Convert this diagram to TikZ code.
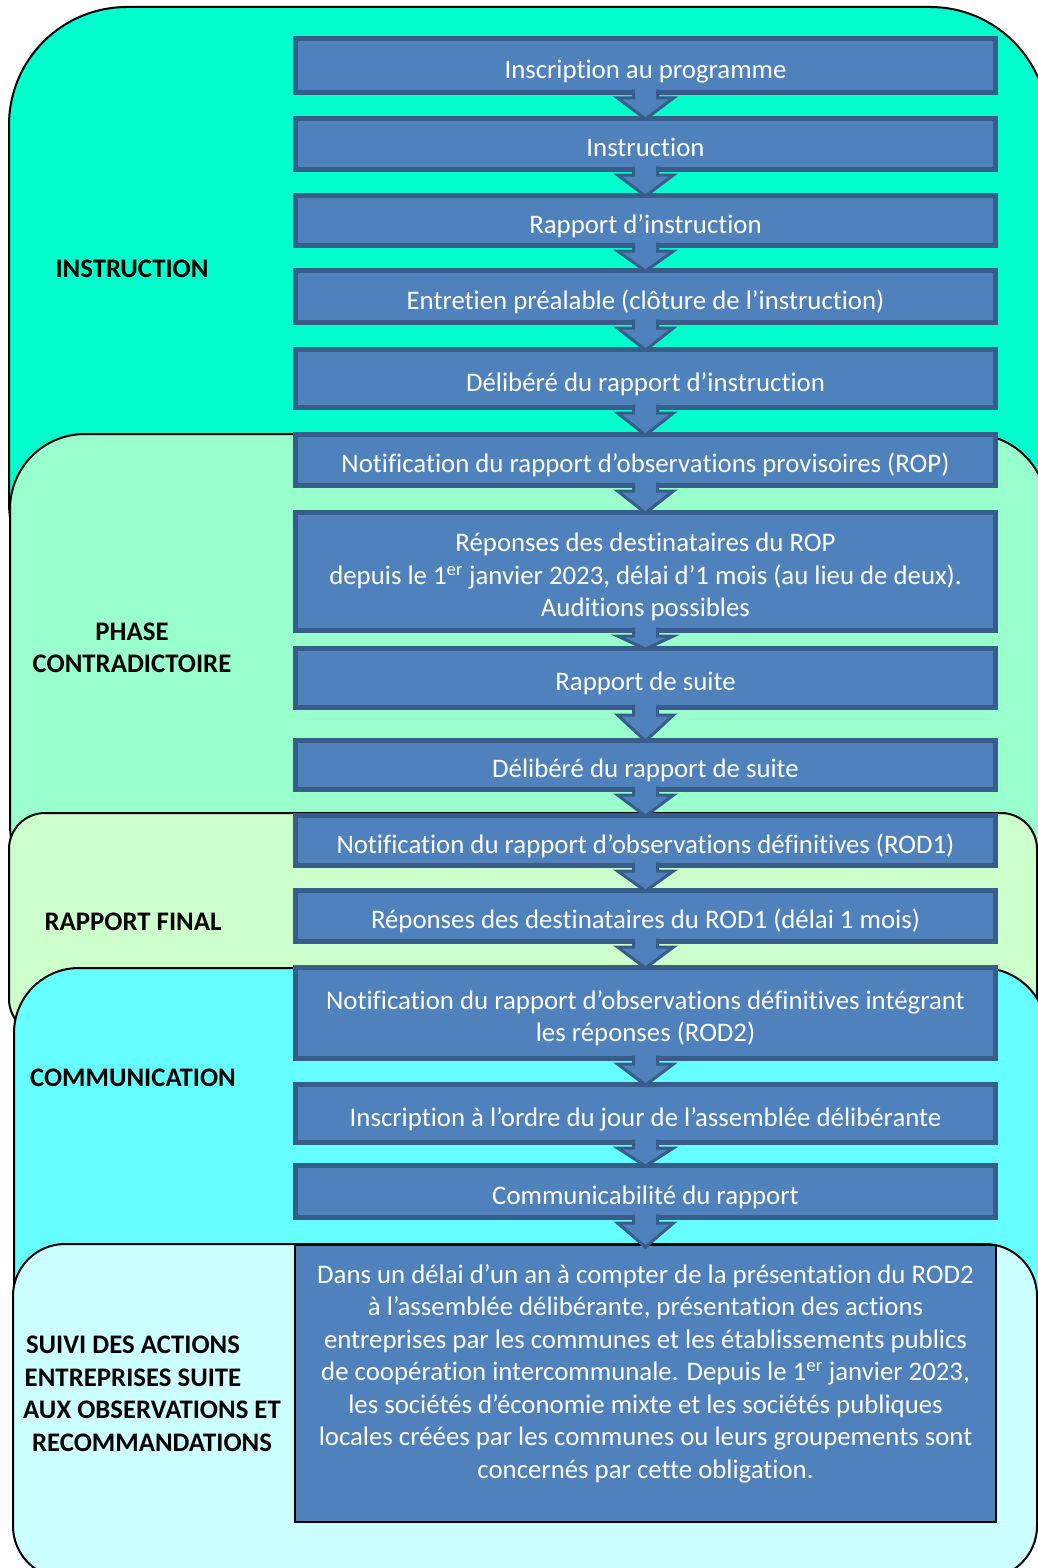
\documentclass[tikz,border=0pt]{standalone}
\usepackage{fontspec}
\setmainfont{Carlito}[Ligatures={TeX,NoCommon}]
\usetikzlibrary{calc}
\definecolor{bgA}{HTML}{00FFCC}
\definecolor{bgB}{HTML}{99FFCC}
\definecolor{bgC}{HTML}{CCFFCC}
\definecolor{bgD}{HTML}{66FFFF}
\definecolor{bgE}{HTML}{CCFFFF}
\definecolor{boxfill}{HTML}{4F81BD}
\definecolor{boxline}{HTML}{385D8A}
\newcommand\topstrut{\rule{0pt}{33.4pt}}
\newcommand\botstrut{\rule[-8pt]{0pt}{0pt}}
\tikzset{
  phasebg/.style={draw=black, line width=2pt},
  stepbox/.style={draw=boxline, fill=boxfill, line width=5pt, minimum width=700pt,
    inner sep=0pt, text=white, align=center, font=\fontsize{26.8}{32.5}\selectfont},
  lastbox/.style={draw=black, fill=boxfill, line width=2pt, minimum width=701pt,
    minimum height=277pt, inner sep=0pt},
  phaselabel/.style={font=\fontsize{26.8}{32.5}\selectfont\bfseries, align=center, text=black, inner sep=0pt},
  flow/.style={fill=boxfill, draw=boxline, line width=3pt, line join=miter},
}
\newcommand\flowarrow[2]{%
  \path[flow] let \p1=(#1.south), \p2=(#2.north),
    \n1={min(\y1-3pt,\y2+23pt)}, \n2={\y2-3pt} in
    (\x1-12pt,\y1+5.5pt) -- (\x1-12pt,\n1) -- (\x1-28pt,\n1) -- (\x1,\n2)
    -- (\x1+28pt,\n1) -- (\x1+12pt,\n1) -- (\x1+12pt,\y1+5.5pt);
}
\begin{document}
\begin{tikzpicture}[x=1pt,y=-1pt]
\useasboundingbox (0,0) rectangle (1038,1568);
\begin{scope}
  \clip (0,0) rectangle (1038,1568);
  \draw[phasebg, fill=bgA, rounded corners=118pt] (9,7) rectangle (1048,620);
  \draw[phasebg, fill=bgB, rounded corners=75pt] (10,434) rectangle (1047,900);
  \draw[phasebg, fill=bgC, rounded corners=36pt] (9,813) rectangle (1037,1035);
  \draw[phasebg, fill=bgD, rounded corners=65pt] (14,968) rectangle (1047,1420);
  \draw[phasebg, fill=bgE, rounded corners=52pt] (13,1244) rectangle (1037,1578);
\end{scope}

\node[phaselabel] (lblA) at (132,269) {INSTRUCTION};
\node[phaselabel] (lblB) at (132,648) {PHASE\\CONTRADICTOIRE};
\node[phaselabel] (lblC) at (133,922) {RAPPORT FINAL};
\node[phaselabel] (lblD) at (133,1078) {COMMUNICATION};
\node[phaselabel] (lblE) at (152,1394) {SUIVI DES ACTIONS\rule{38pt}{0pt}\\ENTREPRISES SUITE\rule{38pt}{0pt}\\AUX OBSERVATIONS ET\\RECOMMANDATIONS};

\node[stepbox, minimum height=54pt] (s1) at (645.5,65.5) {\topstrut Inscription au programme\botstrut};
\node[stepbox, minimum height=51pt] (s2) at (645.5,144) {\topstrut Instruction\botstrut};
\node[stepbox, minimum height=50pt] (s3) at (645.5,220.5) {\topstrut Rapport d’instruction\botstrut};
\node[stepbox, minimum height=52pt] (s4) at (645.5,296.5) {\topstrut Entretien préalable (clôture de l’instruction)\botstrut};
\node[stepbox, minimum height=58pt] (s5) at (645.5,378.5) {\topstrut Délibéré du rapport d’instruction\botstrut};
\node[stepbox, minimum height=51pt] (s6) at (645.5,460) {\topstrut Notification du rapport d’observations provisoires (ROP)\botstrut};
\node[stepbox, minimum height=118pt] (s7) at (645.5,571.5) {\topstrut Réponses des destinataires du ROP\\depuis le 1\textsuperscript{er} janvier 2023, délai d’1 mois (au lieu de deux).\\Auditions possibles\botstrut};
\node[stepbox, minimum height=59pt] (s8) at (645.5,678) {\topstrut Rapport de suite\botstrut};
\node[stepbox, minimum height=49pt] (s9) at (645.5,765) {\topstrut Délibéré du rapport de suite\botstrut};
\node[stepbox, minimum height=50pt] (s10) at (645.5,840.5) {\topstrut Notification du rapport d’observations définitives (ROD1)\botstrut};
\node[stepbox, minimum height=51pt] (s11) at (645.5,916) {\topstrut Réponses des destinataires du ROD1 (délai 1 mois)\botstrut};
\node[stepbox, minimum height=91pt] (s12) at (645.5,1013) {\topstrut Notification du rapport d’observations définitives intégrant\\les réponses (ROD2)\botstrut};
\node[stepbox, minimum height=58pt] (s13) at (645.5,1113.5) {\topstrut Inscription à l’ordre du jour de l’assemblée délibérante\botstrut};
\node[stepbox, minimum height=52pt] (s14) at (645.5,1191.5) {\topstrut Communicabilité du rapport\botstrut};
\node[lastbox, label={[anchor=north, yshift=-20pt, inner sep=0pt, align=center, text=white,
    font=\fontsize{26.8}{32.5}\selectfont]north:{Dans un délai d’un an à compter de la présentation du ROD2\\à l’assemblée délibérante, présentation des actions\\entreprises par les communes et les établissements publics\\de coopération intercommunale. Depuis le 1\textsuperscript{er} janvier 2023,\\les sociétés d’économie mixte et les sociétés publiques\\locales créées par les communes ou leurs groupements sont\\concernés par cette obligation.}}] (s15) at (645.5,1383.5) {};

\flowarrow{s1}{s2}
\flowarrow{s2}{s3}
\flowarrow{s3}{s4}
\flowarrow{s4}{s5}
\flowarrow{s5}{s6}
\flowarrow{s6}{s7}
\flowarrow{s7}{s8}
\flowarrow{s8}{s9}
\flowarrow{s9}{s10}
\flowarrow{s10}{s11}
\flowarrow{s11}{s12}
\flowarrow{s12}{s13}
\flowarrow{s13}{s14}
\flowarrow{s14}{s15}
\end{tikzpicture}
\end{document}
